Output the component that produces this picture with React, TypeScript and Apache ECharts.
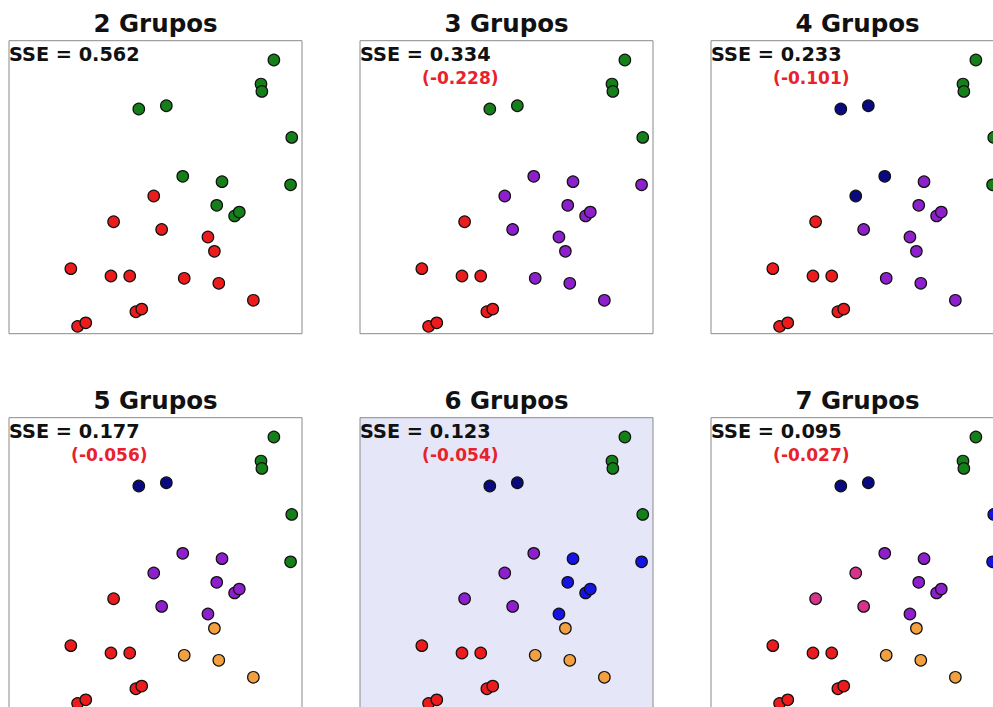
import React, { useEffect, useRef } from "react";
import * as echarts from "echarts";

// point coordinates (normalised 0..1 within each panel)
const xs = [0.904, 0.86, 0.863, 0.443, 0.537, 0.965, 0.961, 0.593, 0.727, 0.709, 0.77, 0.786, 0.494, 0.357, 0.521, 0.679, 0.701, 0.211, 0.348, 0.412, 0.598, 0.716, 0.834, 0.433, 0.453, 0.234, 0.262];
const ys = [0.934, 0.852, 0.827, 0.767, 0.778, 0.67, 0.508, 0.537, 0.519, 0.438, 0.402, 0.415, 0.47, 0.382, 0.356, 0.33, 0.281, 0.222, 0.197, 0.197, 0.189, 0.172, 0.114, 0.075, 0.084, 0.025, 0.037];

// cluster labels per k
const groups = [2, 3, 4, 5, 6, 7];
const labels = [
  "GGGGGGGGGGGGRRRRRRRRRRRRRRR",
  "GGGGGGPPPPPPPRPPPRRRPPPRRRR",
  "GGGNNGGNPPPPNRPPPRRRPPPRRRR",
  "GGGNNGGPPPPPPRPPORRROOORRRR",
  "GGGNNGBPBBBBPPPBORRROOORRRR",
  "GGGNNBBPPPPPKKKPORRROOORRRR",
];
const sse = [0.562, 0.334, 0.233, 0.177, 0.123, 0.095];
const deltas = [null, -0.228, -0.101, -0.056, -0.054, -0.027];
const highlighted = 4;

const clusterColors: Record<string, string> = {
  G: "#15801a",
  R: "#ec1c1c",
  P: "#8e1fcc",
  N: "#0a0a80",
  B: "#1414e6",
  O: "#f3a040",
  K: "#d8338a",
};

const PANEL = 293;
const colLeft = [9, 360, 711];
const rowTop = [40.7, 417.7];
const FONT = "DejaVu Sans";

export default function App() {
  const ref = useRef<HTMLDivElement>(null);
  useEffect(() => {
    if (!ref.current) return;
    const chart = echarts.init(ref.current, undefined, { renderer: "svg" });
    const grid: any[] = [];
    const xAxis: any[] = [];
    const yAxis: any[] = [];
    const series: any[] = [];
    const graphic: any[] = [];
    groups.forEach((k, i) => {
      const left = colLeft[i % 3];
      const top = rowTop[Math.floor(i / 3)];
      grid.push({
        left,
        top,
        width: PANEL,
        height: PANEL,
        show: true,
        borderColor: "#8a8a8a",
        borderWidth: 1,
        backgroundColor: i === highlighted ? "#e5e6f8" : "#ffffff",
      });
      xAxis.push({ type: "value", gridIndex: i, min: 0, max: 1, show: false });
      yAxis.push({ type: "value", gridIndex: i, min: 0, max: 1, show: false });
      const lab = labels[i];
      const keys: string[] = [];
      for (const c of lab) if (!keys.includes(c)) keys.push(c);
      keys.forEach((c) => {
        const data: number[][] = [];
        for (let j = 0; j < xs.length; j++) if (lab[j] === c) data.push([xs[j], ys[j]]);
        series.push({
          type: "scatter",
          xAxisIndex: i,
          yAxisIndex: i,
          data,
          symbolSize: 11.5,
          itemStyle: { color: clusterColors[c], borderColor: "#111", borderWidth: 1.2, opacity: 1 },
          silent: true,
        });
      });
      graphic.push({
        type: "text",
        x: left + PANEL / 2,
        y: top - 17.4,
        style: {
          text: `${k} Grupos`,
          fontSize: 24.5,
          fontWeight: "bold",
          fontFamily: FONT,
          fill: "#111",
          align: "center",
          verticalAlign: "middle",
        },
      });
      graphic.push({
        type: "text",
        x: left,
        y: top + 13.6,
        style: {
          text: `SSE = ${sse[i].toFixed(3)}`,
          fontSize: 19.3,
          fontWeight: "bold",
          fontFamily: FONT,
          fill: "#111",
          align: "left",
          verticalAlign: "middle",
        },
      });
      const d = deltas[i];
      if (d !== null) {
        graphic.push({
          type: "text",
          x: left + 100.3,
          y: top + 36.8,
          style: {
            text: `(${d.toFixed(3)})`,
            fontSize: 17,
            fontWeight: "bold",
            fontFamily: FONT,
            fill: "#e8222c",
            align: "center",
            verticalAlign: "middle",
          },
        });
      }
    });
    chart.setOption({
      animation: false,
      backgroundColor: "#ffffff",
      grid,
      xAxis,
      yAxis,
      series,
      graphic,
    });
    return () => chart.dispose();
  }, []);
  return (
    <div
      style={{ position: "fixed", left: 0, top: 0, width: 993, height: 707, overflow: "hidden", background: "#fff" }}
    >
      <div ref={ref} style={{ width: 1030, height: 730 }} />
    </div>
  );
}
